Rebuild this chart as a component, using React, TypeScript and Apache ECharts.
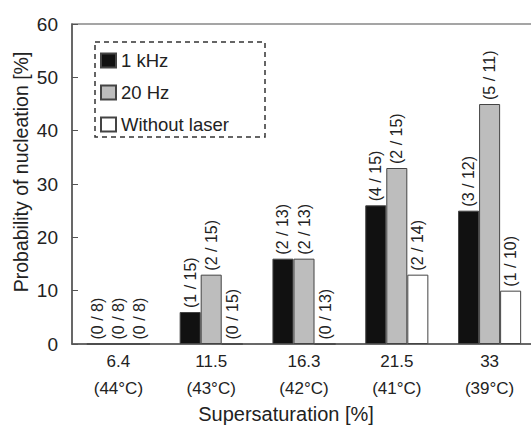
import React, { useEffect, useRef } from "react";
import * as echarts from "echarts";

const categories = ["6.4\n(44°C)", "11.5\n(43°C)", "16.3\n(42°C)", "21.5\n(41°C)", "33\n(39°C)"];
const seriesNames = ["1 kHz", "20 Hz", "Without laser"];
const values1k = [0, 6, 16, 26, 25];
const values20 = [0, 13, 16, 33, 45];
const valuesNo = [0, 0, 0, 13, 10];
const labels1k = ["(0 / 8)", "(1 / 15)", "(2 / 13)", "(4 / 15)", "(3 / 12)"];
const labels20 = ["(0 / 8)", "(2 / 15)", "(2 / 13)", "(2 / 15)", "(5 / 11)"];
const labelsNo = ["(0 / 8)", "(0 / 15)", "(0 / 13)", "(2 / 14)", "(1 / 10)"];
const yTicks = { min: 0, max: 60, interval: 10 };

const FONT = "'Liberation Sans', Arial, sans-serif";
const TEXT = "#222";

export default function App() {
  const ref = useRef<HTMLDivElement>(null);
  useEffect(() => {
    if (!ref.current) return;
    const chart = echarts.init(ref.current, undefined, { renderer: "svg" });
    const mk = (name: string, data: number[], labels: string[], color: string) => ({
      name,
      type: "bar",
      data,
      barGap: "0%",
      barCategoryGap: "32%",
      itemStyle: { color, borderColor: "#444", borderWidth: 1 },
      label: {
        show: true,
        position: "top",
        rotate: 90,
        align: "left",
        verticalAlign: "middle",
        distance: 4,
        fontSize: 16,
        fontFamily: FONT,
        color: TEXT,
        formatter: (p: any) => labels[p.dataIndex],
      },
    });
    chart.setOption({
      animation: false,
      backgroundColor: "#fff",
      textStyle: { fontFamily: FONT },
      grid: {
        left: 72,
        top: 24,
        right: 4,
        bottom: 81,
        show: true,
        borderColor: "#888",
        borderWidth: 1.5,
      },
      legend: {
        orient: "vertical",
        left: 100,
        top: 51,
        padding: 0,
        itemWidth: 15,
        itemHeight: 14,
        itemGap: 13,
        itemTextGap: 7,
        icon: "rect",
        textStyle: { fontSize: 18.5, fontFamily: FONT, color: TEXT, lineHeight: 18 },
        data: seriesNames,
      },
      xAxis: {
        type: "category",
        data: categories,
        axisLine: { lineStyle: { color: "#555", width: 1.5 } },
        axisTick: { inside: true, length: 5, lineStyle: { color: "#555" } },
        axisLabel: { fontSize: 17, lineHeight: 27, color: TEXT, margin: 4, fontFamily: FONT },
      },
      yAxis: {
        type: "value",
        min: yTicks.min,
        max: yTicks.max,
        interval: yTicks.interval,
        axisLine: { show: true, lineStyle: { color: "#555", width: 1.5 } },
        axisTick: { show: true, inside: true, length: 6, lineStyle: { color: "#555" } },
        axisLabel: { fontSize: 19, color: TEXT, margin: 14, fontFamily: FONT },
        splitLine: { show: false },
      },
      graphic: [
        {
          type: "rect",
          shape: { x: 95, y: 42, width: 170, height: 95 },
          style: { fill: "none", stroke: "#333", lineWidth: 1.5, lineDash: [5, 4] },
        },
        {
          type: "text",
          x: 21,
          y: 172,
          rotation: Math.PI / 2,
          style: {
            text: "Probability of nucleation [%]",
            fontSize: 19.5,
            fontFamily: FONT,
            fill: TEXT,
            align: "center",
            verticalAlign: "middle",
          },
        },
        {
          type: "text",
          x: 286,
          y: 414,
          style: {
            text: "Supersaturation [%]",
            fontSize: 20,
            fontFamily: FONT,
            fill: TEXT,
            align: "center",
            verticalAlign: "middle",
          },
        },
      ],
      series: [
        mk(seriesNames[0], values1k, labels1k, "#111"),
        mk(seriesNames[1], values20, labels20, "#bdbdbd"),
        mk(seriesNames[2], valuesNo, labelsNo, "#ffffff"),
      ],
    });
    return () => chart.dispose();
  }, []);
  return (
    <div style={{ position: "fixed", left: 0, top: 0, width: 531, height: 425, overflow: "hidden", background: "#fff" }}>
      <div ref={ref} style={{ width: 540, height: 425 }} />
    </div>
  );
}
